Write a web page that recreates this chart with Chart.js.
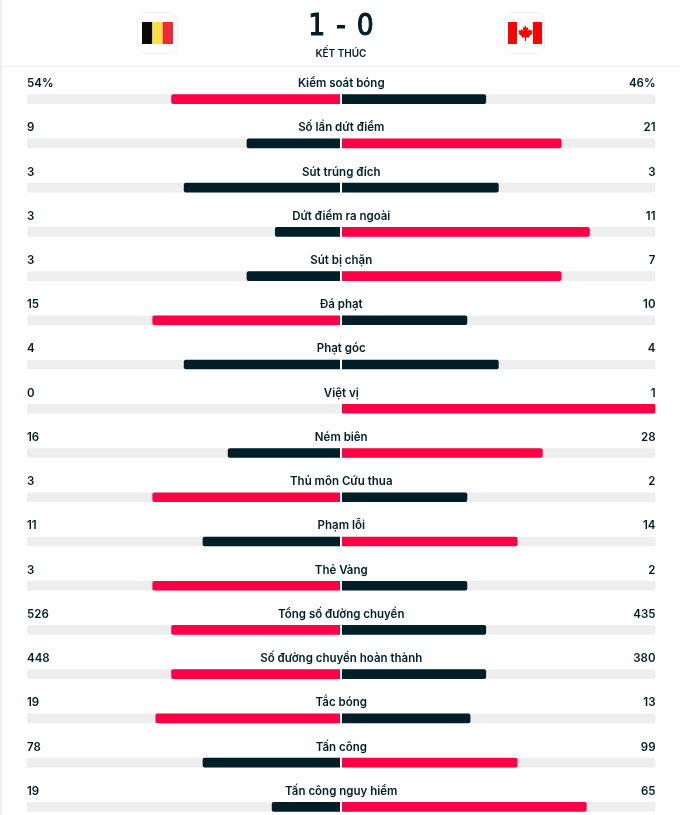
<!DOCTYPE html>
<html lang="vi">
<head>
<meta charset="utf-8">
<title>Thống kê trận đấu</title>
<script src="https://cdn.jsdelivr.net/npm/chart.js@4/dist/chart.umd.min.js"></script>
<style>
  html, body { margin: 0; padding: 0; background: #fff; overflow: hidden; width: 680px; height: 815px; }
  .stage { position: relative; width: 680px; height: 815px; overflow: hidden; }
  .edge { position: absolute; left: 0; top: 0; width: 2px; height: 815px; background: #efefef; }
  .rule { position: absolute; left: 2px; right: 0; top: 66px; height: 1px; background: #efefef; }
  .logo { position: absolute; top: 12px; width: 39px; height: 40px; border: 1px solid #f0f0f0; border-radius: 9px; display: flex; align-items: center; justify-content: center; }
  .logo svg { display: block; }
  .score { position: absolute; left: 241px; width: 200px; top: 6px; text-align: center; font: 400 31px "DejaVu Sans", sans-serif; color: #001e28; -webkit-text-stroke: 1.2px #001e28; transform: scaleX(0.86); word-spacing: 3px; white-space: nowrap; }
  .status { position: absolute; left: 241px; width: 200px; top: 47px; text-align: center; font: 600 10px Inter, sans-serif; color: #001e28; }
  #chartWrap { position: absolute; left: 0; top: 0; width: 680px; height: 829px; }
</style>
</head>
<body>
<div class="stage">
  <div id="chartWrap"><canvas id="statsChart"></canvas></div>
  <div class="edge"></div>
  <div class="rule"></div>
  <div class="logo" style="left:137px">
    <svg width="31" height="22" viewBox="0 0 3 2" preserveAspectRatio="none"><rect width="1" height="2" fill="#0a0a0a"/><rect x="1" width="1" height="2" fill="#fae042"/><rect x="2" width="1" height="2" fill="#ed2939"/></svg>
  </div>
  <div class="logo" style="left:504px">
    <svg width="34" height="22" viewBox="0 0 34 22"><rect width="34" height="22" fill="#fff"/><rect width="9" height="22" fill="#f00"/><rect x="25" width="9" height="22" fill="#f00"/><path fill="#f00" d="M17 3l1.6 3 1.7-.9-.7 4 2-2 .5 1.5 2.4-.4-.8 2.6 1 .5-3.6 3 .5 1.5-3.6-.5.1 3.7h-1.2l.1-3.7-3.6.5.5-1.5-3.6-3 1-.5-.8-2.6 2.4.4.5-1.5 2 2-.7-4 1.7.9z"/></svg>
  </div>
  <div class="score">1 - 0</div>
  <div class="status">KẾT THÚC</div>
</div>
<script>
const categories = [
  'Kiểm soát bóng', 'Số lần dứt điểm', 'Sút trúng đích', 'Dứt điểm ra ngoài', 'Sút bị chặn',
  'Đá phạt', 'Phạt góc', 'Việt vị', 'Ném biên', 'Thủ môn Cứu thua', 'Phạm lỗi', 'Thẻ Vàng',
  'Tổng số đường chuyền', 'Số đường chuyền hoàn thành', 'Tắc bóng', 'Tấn công', 'Tấn công nguy hiểm'
];
const homeValues = [54, 9, 3, 3, 3, 15, 4, 0, 16, 3, 11, 3, 526, 448, 19, 78, 19];
const awayValues = [46, 21, 3, 11, 7, 10, 4, 1, 28, 2, 14, 2, 435, 380, 13, 99, 65];
const homeSuffix = ['%'];
const awaySuffix = ['%'];

const RED = '#ff0046';
const DARK = '#001e28';
const TRACK = '#eeeeee';

// whole percent for the home side, the away side takes the rest
const homeShare = (a, b) => (a + b === 0 ? 0 : Math.floor((a / (a + b)) * 100) / 100);
// the side with the bigger number gets the red bar, a tie stays dark
const barColor = (mine, other) => (mine > other ? RED : DARK);

// draws the row titles and the numbers at both ends of each bar
const rowText = {
  id: 'rowText',
  afterDraw(chart) {
    const { ctx, chartArea, scales } = chart;
    ctx.save();
    ctx.fillStyle = DARK;
    ctx.textBaseline = 'middle';
    ctx.font = '600 11.5px Inter, sans-serif';
    categories.forEach((name, i) => {
      const y = scales.y.getPixelForValue(i) - 15.5;
      ctx.textAlign = 'left';
      ctx.fillText(homeValues[i] + (homeSuffix[i] || ''), chartArea.left, y);
      ctx.textAlign = 'right';
      ctx.fillText(awayValues[i] + (awaySuffix[i] || ''), chartArea.right, y);
      ctx.textAlign = 'center';
      ctx.fillText(name, scales.x.getPixelForValue(0), y);
    });
    ctx.restore();
  }
};

new Chart(document.getElementById('statsChart'), {
  type: 'bar',
  data: {
    labels: categories,
    datasets: [
      {
        label: 'Đội nhà',
        data: homeValues.map((v, i) => [-homeShare(v, awayValues[i]), 0]),
        backgroundColor: homeValues.map((v, i) => barColor(v, awayValues[i])),
        borderRadius: { topLeft: 2, bottomLeft: 2, topRight: 0, bottomRight: 0 },
        order: 1
      },
      {
        label: 'Đội khách',
        data: awayValues.map((v, i) => [0, 1 - homeShare(homeValues[i], v)]),
        backgroundColor: awayValues.map((v, i) => barColor(v, homeValues[i])),
        borderRadius: { topLeft: 0, bottomLeft: 0, topRight: 2, bottomRight: 2 },
        order: 1
      },
      {
        label: 'Nền',
        data: categories.map(() => [-1, 1]),
        backgroundColor: TRACK,
        borderRadius: 2,
        order: 2
      }
    ]
  },
  options: {
    indexAxis: 'y',
    responsive: true,
    maintainAspectRatio: false,
    animation: false,
    layout: { padding: { left: 27, right: 24.5, top: 77, bottom: 0 } },
    datasets: { bar: { grouped: false, barThickness: 9, borderSkipped: false } },
    plugins: { legend: { display: false }, tooltip: { enabled: false } },
    scales: {
      x: {
        min: -1,
        max: 1,
        border: { display: false },
        ticks: { display: false, stepSize: 1 },
        grid: {
          z: 1,
          drawTicks: false,
          lineWidth: 2,
          color: (c) => (c.tick && c.tick.value === 0 ? '#ffffff' : 'transparent')
        }
      },
      y: { display: false }
    }
  },
  plugins: [rowText]
});
</script>
</body>
</html>
